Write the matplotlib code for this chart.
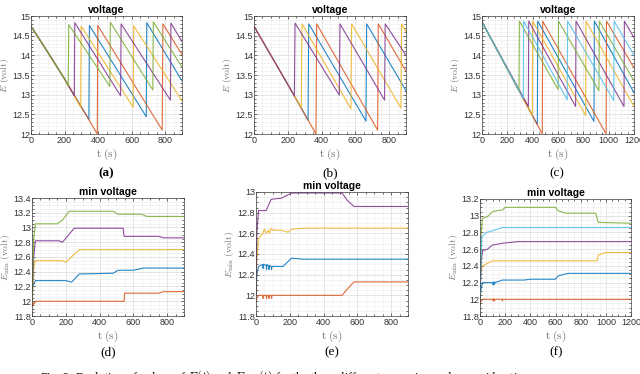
import matplotlib.pyplot as plt
from matplotlib.ticker import MultipleLocator, FuncFormatter

plt.rcParams['mathtext.fontset'] = 'cm'
plt.rcParams['font.family'] = ['Liberation Sans', 'DejaVu Sans']

# MATLAB default line colours
blue, orange, yellow = '#0072BD', '#D95319', '#EDB120'
purple, green, lightblue = '#7E2F8E', '#77AC30', '#4DBEEE'

# ---- (a) voltage, scenario 1 ----
a_colors = [blue, orange, yellow, purple, green]
a_t = [[0, 100, 200, 345, 348, 687, 690, 900],
       [0, 100, 200, 395, 398, 782, 786, 900],
       [0, 100, 200, 296, 299, 609, 612, 900],
       [0, 100, 200, 258, 261, 534, 537, 831, 834, 900],
       [0, 100, 200, 222, 225, 470, 473, 726, 729, 900]]
a_v = [[14.74, 14.08, 13.4, 12.37, 14.76, 12.44, 14.83, 13.35],
       [14.74, 14.08, 13.4, 12.0, 14.76, 12.1, 14.8, 14.02],
       [14.74, 14.08, 13.4, 12.68, 14.74, 12.68, 14.75, 12.84],
       [14.74, 14.08, 13.4, 12.97, 14.83, 12.97, 14.8, 12.86, 14.82, 14.35],
       [14.74, 14.08, 13.4, 13.22, 14.78, 13.21, 14.84, 13.12, 14.85, 13.7]]

# ---- (b) voltage, scenario 2 ----
b_colors = [blue, orange, yellow, purple]
b_t = [[0, 100, 200, 320, 324, 663, 667, 900],
       [0, 100, 200, 367, 371, 732, 736, 900],
       [0, 100, 200, 280, 284, 574, 578, 870, 874, 900],
       [0, 100, 200, 239, 243, 505, 509, 773, 777, 900]]
b_v = [[14.74, 14.0, 13.26, 12.35, 14.8, 12.33, 14.8, 13.1],
       [14.74, 14.0, 13.26, 12.0, 14.8, 12.1, 14.8, 13.6],
       [14.74, 14.0, 13.26, 12.67, 14.8, 12.64, 14.8, 12.66, 14.8, 14.6],
       [14.74, 14.0, 13.26, 12.97, 14.82, 12.99, 14.8, 12.86, 14.8, 14.0]]

# ---- (c) voltage, scenario 3 ----
c_colors = [blue, orange, yellow, purple, green, lightblue]
c_t = [[0, 437, 440, 884, 887, 1200],
       [0, 476, 479, 980, 983, 1200],
       [0, 397, 400, 818, 821, 1200],
       [0, 366, 369, 739, 742, 1121, 1124, 1200],
       [0, 292, 295, 601, 604, 923, 926, 1200],
       [0, 326, 329, 673, 676, 1040, 1043, 1200]]
c_v = [[14.85, 12.24, 14.87, 12.32, 14.87, 13.05],
       [14.85, 12.0, 14.87, 12.0, 14.87, 13.68],
       [14.85, 12.47, 14.87, 12.47, 14.87, 12.7],
       [14.85, 12.7, 14.87, 12.7, 14.87, 12.7, 14.87, 14.45],
       [14.85, 13.1, 14.87, 13.13, 14.87, 13.1, 14.87, 13.35],
       [14.85, 12.9, 14.87, 12.87, 14.87, 12.85, 14.87, 14.0]]

# ---- (d) min voltage, scenario 1 ----
d_colors = [blue, orange, yellow, purple, green]
d_t = [[0, 5, 20, 200, 235, 280, 480, 510, 600, 660, 900],
       [0, 3, 6, 10, 15, 20, 545, 548, 750, 780, 900],
       [0, 10, 20, 180, 200, 280, 900],
       [0, 10, 20, 160, 180, 250, 540, 545, 750, 780, 900],
       [0, 10, 20, 150, 180, 220, 480, 510, 650, 680, 900]]
d_v = [[12.0, 12.2, 12.28, 12.28, 12.26, 12.37, 12.38, 12.42, 12.42, 12.45, 12.45],
       [11.93, 11.97, 11.95, 11.98, 11.97, 12.0, 12.0, 12.11, 12.11, 12.13, 12.13],
       [12.0, 12.45, 12.55, 12.55, 12.53, 12.7, 12.7],
       [12.0, 12.6, 12.82, 12.82, 12.8, 12.99, 12.99, 12.88, 12.88, 12.86, 12.86],
       [12.0, 12.85, 13.05, 13.05, 13.1, 13.22, 13.22, 13.18, 13.18, 13.15, 13.15]]

# ---- (e) min voltage, scenario 2 ----
e_colors = [blue, orange, yellow, purple]
e_t = [[0, 5, 15, 40, 42, 45, 60, 62, 65, 75, 77, 80, 90, 92, 95, 100, 160, 210, 280, 900],
       [0, 5, 15, 40, 42, 45, 60, 62, 65, 75, 77, 80, 90, 92, 95, 510, 540, 580, 900],
       [0, 5, 15, 40, 50, 60, 75, 80, 90, 100, 150, 190, 210, 280, 900],
       [0, 5, 15, 60, 90, 150, 210, 510, 540, 580, 900]]
e_v = [[12.0, 12.2, 12.28, 12.3, 12.26, 12.3, 12.29, 12.25, 12.3, 12.28, 12.25, 12.29,
        12.28, 12.25, 12.28, 12.28, 12.28, 12.36, 12.35, 12.35],
       [11.94, 11.97, 12.0, 12.0, 11.97, 12.0, 12.0, 11.97, 12.0, 12.0, 11.97, 12.0,
        12.0, 11.97, 12.0, 12.0, 12.06, 12.13, 12.13],
       [12.0, 12.35, 12.55, 12.6, 12.64, 12.6, 12.63, 12.6, 12.65, 12.63, 12.63, 12.61,
        12.64, 12.65, 12.65],
       [12.0, 12.6, 12.82, 12.82, 12.93, 12.94, 12.99, 12.99, 12.92, 12.86, 12.86]]

# ---- (f) min voltage, scenario 3 ----
f_colors = [blue, orange, yellow, purple, green, lightblue]
f_t = [[0, 5, 20, 100, 105, 110, 115, 120, 180, 350, 400, 600, 620, 700, 1200],
       [0, 5, 20, 100, 105, 110, 115, 120, 175, 178, 181, 1200],
       [0, 5, 20, 60, 100, 180, 930, 940, 1000, 1200],
       [0, 10, 20, 60, 100, 180, 300, 1200],
       [0, 10, 20, 60, 100, 180, 200, 600, 620, 680, 920, 940, 1200],
       [0, 10, 15, 50, 100, 180, 1200]]
f_v = [[11.95, 12.1, 12.2, 12.2, 12.17, 12.21, 12.18, 12.2, 12.23, 12.23, 12.24, 12.24, 12.28, 12.31, 12.31],
       [11.93, 11.97, 12.0, 12.0, 11.98, 12.01, 11.98, 12.0, 12.0, 11.98, 12.0, 12.0],
       [12.0, 12.3, 12.4, 12.43, 12.46, 12.46, 12.46, 12.53, 12.56, 12.56],
       [12.0, 12.45, 12.58, 12.6, 12.65, 12.67, 12.69, 12.69],
       [12.0, 12.8, 12.97, 12.99, 13.05, 13.07, 13.1, 13.1, 13.06, 13.03, 13.03, 12.92, 12.91],
       [12.0, 12.6, 12.75, 12.8, 12.82, 12.86, 12.86]]

fig = plt.figure(figsize=(6.4, 3.74), dpi=100)


def add_ax(l, r, t, b):
    # positions given in pixels of the 640x374 canvas
    return fig.add_axes([l / 640, 1 - b / 374, (r - l) / 640, (b - t) / 374])


def draw(ax, ts, vs, cols, xmax, ylim, ymaj, ymin, title, ylabel):
    for t, v, c in zip(ts, vs, cols):
        ax.plot(t, v, color=c, lw=0.8, alpha=0.85)
    ax.set_xlim(0, xmax)
    ax.set_ylim(*ylim)
    ax.xaxis.set_major_locator(MultipleLocator(200))
    ax.xaxis.set_minor_locator(MultipleLocator(50))
    ax.yaxis.set_major_locator(MultipleLocator(ymaj))
    ax.yaxis.set_minor_locator(MultipleLocator(ymin))
    fmt = FuncFormatter(lambda x, p: '{:.4g}'.format(x))
    ax.xaxis.set_major_formatter(fmt)
    ax.yaxis.set_major_formatter(fmt)
    ax.grid(which='major', color='0.86', lw=0.5)
    ax.grid(which='minor', color='0.93', lw=0.4)
    ax.set_axisbelow(True)
    ax.tick_params(which='both', direction='in', top=True, right=True,
                   labelsize=6.5, colors='0.2', width=0.5, pad=1.5)
    ax.tick_params(axis='y', which='both', pad=0.8)
    ax.tick_params(which='major', length=2.5)
    ax.tick_params(which='minor', length=1.2)
    for s in ax.spines.values():
        s.set_color('0.25')
        s.set_linewidth(0.5)
    ax.set_title(title, fontsize=7.5, fontweight='bold', pad=2)
    ax.set_xlabel(r'$\mathrm{t\ (s)}$', fontsize=8, color='0.45', labelpad=1)
    ax.set_ylabel(ylabel, fontsize=7, color='0.45')
    # right edge of the rotated y label ~20 px left of the axes
    ax.yaxis.set_label_coords(-20 / 152, 0.5)


ylab_top = r'$E\ \mathrm{(volt)}$'
ylab_bot = r'$E_{\min}\ \mathrm{(volt)}$'

draw(add_ax(31, 182, 16, 134), a_t, a_v, a_colors, 900, (12, 15), 0.5, 0.1, 'voltage', ylab_top)
draw(add_ax(254, 406, 16, 134), b_t, b_v, b_colors, 900, (12, 15), 0.5, 0.1, 'voltage', ylab_top)
draw(add_ax(482, 634, 16, 134), c_t, c_v, c_colors, 1200, (12, 15), 0.5, 0.1, 'voltage', ylab_top)
draw(add_ax(32, 184, 198, 316), d_t, d_v, d_colors, 900, (11.8, 13.4), 0.2, 0.05, 'min voltage', ylab_bot)
draw(add_ax(256, 408, 192, 316), e_t, e_v, e_colors, 900, (11.8, 13.0), 0.2, 0.05, 'min voltage', ylab_bot)
draw(add_ax(480, 631, 199, 316), f_t, f_v, f_colors, 1200, (11.8, 13.2), 0.2, 0.05, 'min voltage', ylab_bot)

# sub-captions
sub = [('(a)', 106, 173, 'bold'), ('(b)', 330, 173, 'normal'), ('(c)', 557, 173, 'normal'),
       ('(d)', 108, 352, 'normal'), ('(e)', 332, 352, 'normal'), ('(f)', 556, 352, 'normal')]
for s, x, y, w in sub:
    fig.text(x / 640, 1 - y / 374, s, ha='center', va='center',
             family='Liberation Serif', fontsize=9.5, fontweight=w)

fig.text(40 / 640, 1 - 368 / 374,
         r'Fig. 2: Evolution of values of $E(t)$ and $E_{\min}(t)$ for the three different scenarios under consideration.',
         ha='left', va='top', family='Liberation Serif', fontsize=8.8)

fig.savefig('out.png', dpi=100)
